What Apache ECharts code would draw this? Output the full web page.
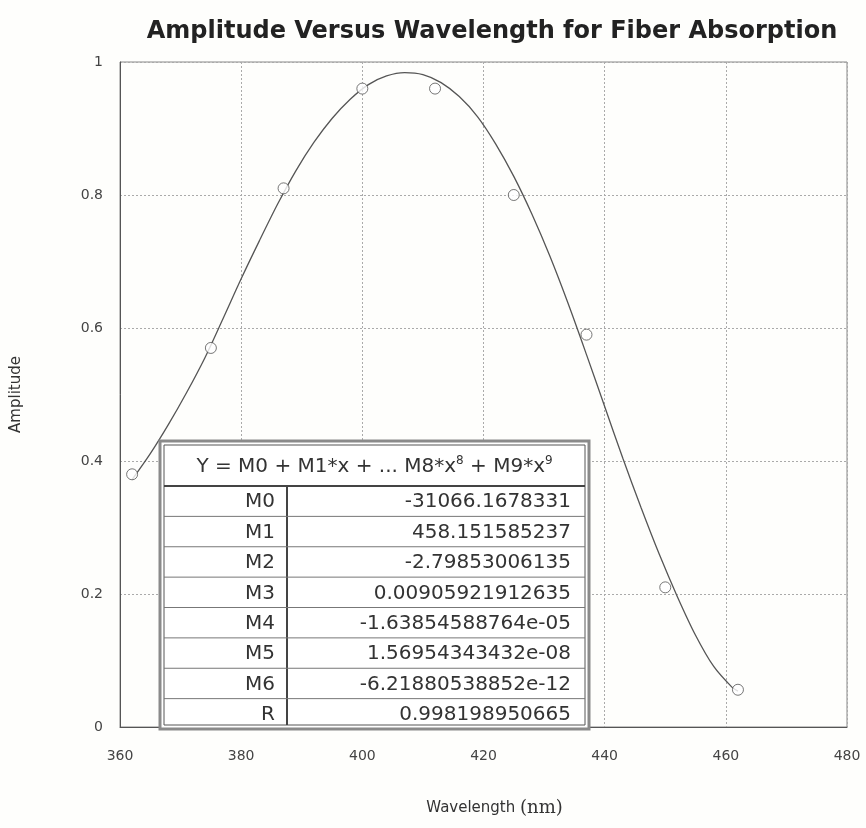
<!DOCTYPE html>
<html>
<head>
<meta charset="utf-8">
<script src="https://cdn.jsdelivr.net/npm/echarts@6/dist/echarts.min.js"></script>
<style>
  html, body { margin: 0; padding: 0; background: #fefefc; }
  #chart { width: 866px; height: 828px; }
</style>
</head>
<body>
<div id="chart"></div>
<script>
  // measured points
  var pointX = [362, 375, 387, 400, 412, 425, 437, 450, 462];
  var pointY = [0.38, 0.57, 0.81, 0.96, 0.96, 0.80, 0.59, 0.21, 0.056];

  // fitted curve
  var curveX = [362, 365, 368, 371, 374, 377, 380, 383, 386, 389, 392, 395, 398, 401, 404, 407,
    410, 413, 416, 419, 422, 425, 428, 431, 434, 437, 440, 443, 446, 449, 452, 455, 458, 461, 462];
  var curveY = [0.372, 0.411, 0.455, 0.503, 0.555, 0.614, 0.674, 0.731, 0.786, 0.836, 0.879,
    0.915, 0.944, 0.966, 0.979, 0.984, 0.981, 0.969, 0.948, 0.918, 0.877, 0.828, 0.771, 0.707,
    0.636, 0.560, 0.482, 0.404, 0.330, 0.260, 0.196, 0.138, 0.091, 0.060, 0.054];

  // fit table
  var fitNames = ['M0', 'M1', 'M2', 'M3', 'M4', 'M5', 'M6', 'R'];
  var fitValues = ['-31066.1678331', '458.151585237', '-2.79853006135', '0.00905921912635',
    '-1.63854588764e-05', '1.56954343432e-08', '-6.21880538852e-12', '0.998198950665'];

  var font = '"DejaVu Sans", "Liberation Sans", Arial, sans-serif';

  function zip(a, b) {
    return a.map(function(v, i) { return [v, b[i]]; });
  }

  /** table graphic */
  function buildTable() {
    var left = 160, top = 441, right = 589, bottom = 729;
    var headH = 45, divX = 287;
    var rowH = (bottom - top - headH) / fitNames.length;
    var els = [];
    els.push({
      type: 'rect', shape: {x: left, y: top, width: right - left, height: bottom - top},
      style: {fill: '#ffffff', stroke: '#8a8a8a', lineWidth: 3}, z: 100
    });
    els.push({
      type: 'rect', shape: {x: left + 4, y: top + 4, width: right - left - 8, height: bottom - top - 8},
      style: {fill: 'none', stroke: '#555', lineWidth: 1}, z: 101
    });
    els.push({
      type: 'line', shape: {x1: left + 4, y1: top + headH, x2: right - 4, y2: top + headH},
      style: {stroke: '#444', lineWidth: 2}, z: 101
    });
    els.push({
      type: 'line', shape: {x1: divX, y1: top + headH, x2: divX, y2: bottom - 4},
      style: {stroke: '#444', lineWidth: 2}, z: 101
    });
    els.push({
      type: 'text', x: (left + right) / 2, y: top + headH / 2 + 3, z: 102,
      style: {
        text: '{n|Y = M0 + M1*x + ... M8*x}{s|8}{n| + M9*x}{s|9}',
        align: 'center', verticalAlign: 'middle',
        rich: {
          n: {fontFamily: font, fontSize: 20, fill: '#333'},
          s: {fontFamily: font, fontSize: 12, fill: '#333', verticalAlign: 'top', padding: [0, 0, 12, 0]}
        }
      }
    });
    for (var i = 0; i < fitNames.length; i++) {
      var y0 = top + headH + i * rowH;
      if (i > 0) {
        els.push({
          type: 'line', shape: {x1: left + 4, y1: y0, x2: right - 4, y2: y0},
          style: {stroke: '#777', lineWidth: 1}, z: 101
        });
      }
      els.push({
        type: 'text', x: 275, y: y0 + rowH / 2 + 1, z: 102,
        style: {text: fitNames[i], fontFamily: font, fontSize: 20, fill: '#333',
          align: 'right', verticalAlign: 'middle'}
      });
      els.push({
        type: 'text', x: 571, y: y0 + rowH / 2 + 1, z: 102,
        style: {text: fitValues[i], fontFamily: font, fontSize: 20, fill: '#333',
          align: 'right', verticalAlign: 'middle'}
      });
    }
    return els;
  }

  var option = {
    backgroundColor: '#fefefc',
    animation: false,
    title: {
      text: 'Amplitude Versus Wavelength for Fiber Absorption',
      left: 487, top: 15, textAlign: 'center',
      textStyle: {fontFamily: font, fontSize: 24, fontWeight: 'bold', color: '#222'}
    },
    grid: {
      left: 120, right: 19, top: 62, bottom: 101,
      show: true, borderColor: '#888', borderWidth: 1, backgroundColor: 'transparent'
    },
    xAxis: {
      type: 'value', min: 360, max: 480, interval: 20,
      name: '{a|Wavelength }{b|(nm)}', nameLocation: 'middle', nameGap: 72,
      nameTextStyle: {
        padding: [0, 0, 0, 22],
        rich: {
          a: {fontFamily: font, fontSize: 15, color: '#333'},
          b: {fontFamily: '"DejaVu Serif", "Liberation Serif", serif', fontSize: 18, color: '#333'}
        }
      },
      axisLine: {show: true, lineStyle: {color: '#555', width: 1}},
      axisTick: {show: false},
      axisLabel: {fontFamily: font, fontSize: 14, color: '#444', margin: 22},
      splitLine: {show: true, lineStyle: {color: '#aaa', type: [2, 2], width: 1}}
    },
    yAxis: {
      type: 'value', min: 0, max: 1, interval: 0.2,
      name: 'Amplitude', nameLocation: 'middle', nameGap: 96, nameRotate: 90,
      nameTextStyle: {fontFamily: font, fontSize: 15, color: '#333'},
      axisLine: {show: true, lineStyle: {color: '#555', width: 1}},
      axisTick: {show: false},
      axisLabel: {fontFamily: font, fontSize: 14, color: '#444', margin: 17},
      splitLine: {show: true, lineStyle: {color: '#aaa', type: [2, 2], width: 1}}
    },
    series: [{
      type: 'line',
      data: zip(curveX, curveY),
      smooth: 0.3,
      showSymbol: false,
      lineStyle: {color: '#555', width: 1.3},
      z: 2
    }, {
      type: 'scatter',
      data: zip(pointX, pointY),
      symbol: 'circle',
      symbolSize: 11,
      itemStyle: {color: '#fff', borderColor: '#555', borderWidth: 1},
      z: 3
    }],
    graphic: buildTable()
  };

  echarts.init(document.getElementById('chart')).setOption(option);
</script>
</body>
</html>
